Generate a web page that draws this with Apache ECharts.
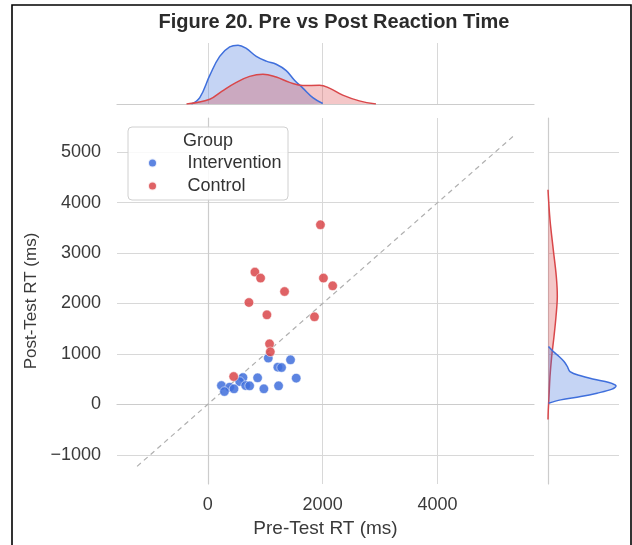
<!DOCTYPE html>
<html>
<head>
<meta charset="utf-8">
<script src="https://cdn.jsdelivr.net/npm/echarts@6/dist/echarts.min.js"></script>
<style>html,body{margin:0;padding:0;background:#fff}#c{width:632px;height:545px}</style>
</head>
<body>
<div id="c"></div>
<script>
// ---- data ----
const groups = ['Intervention', 'Control'];
const interventionPre  = [1054, 1441, 1220, 1285, 613, 868, 1540, 556, 238, 660, 729, 1233, 382, 457, 290, 977];
const interventionPost = [917, 883, 738, 730, 532, 526, 520, 452, 373, 373, 367, 367, 341, 308, 254, 308];
const controlPre  = [1962, 821, 920, 2014, 2175, 1337, 717, 1030, 1858, 1076, 1089, 451];
const controlPost = [3562, 2623, 2504, 2504, 2351, 2238, 2020, 1776, 1736, 1200, 1042, 552];
const xTicks = [0, 2000, 4000];
const yTicks = [-1000, 0, 1000, 2000, 3000, 4000, 5000];
const diagonal = [-1230, 5350];
// marginal density curves (relative heights)
const topBlueX = [-283, -139, 35, 208, 382, 527, 671, 845, 1019, 1192, 1366, 1510, 1655, 1829, 2002];
const topBlueH = [0, 6.7, 30, 50, 60, 61.7, 58.3, 50, 45, 41.7, 35, 25, 16.7, 6.7, 0.5];
const topRedX = [-370, 35, 243, 498, 729, 961, 1192, 1424, 1655, 1944, 2118, 2350, 2639, 2928];
const topRedH = [0, 5, 13.3, 22.7, 29, 31.3, 28.3, 22.7, 19.3, 19.7, 16.7, 9.3, 3.3, 0];
const rightBlueY = [23, 89, 155, 222, 301, 367, 433, 499, 566, 651, 751, 850, 949, 1048, 1147];
const rightBlueW = [0.5, 12.7, 32.7, 49, 64, 68, 61, 46, 32.7, 22, 19.3, 16, 11, 5.3, 0.5];
const rightRedY = [-300, -109, 155, 552, 949, 1346, 1743, 2140, 2536, 3065, 3661, 4256];
const rightRedW = [0, 0.3, 1, 2, 3.7, 6, 8, 9.3, 8.3, 5.3, 2, 0];

const BLUE = '#3f6fdc', RED = '#d9474a';
const FONT = "'Liberation Sans', Arial, sans-serif";
const RANGE = [-1580, 5680];
const zip = (a, b) => a.map((v, i) => [v, b[i]]);
const fmt = v => (v < 0 ? '\u2212' + Math.abs(v) : String(v));

const chart = echarts.init(document.getElementById('c'), null, {renderer: 'canvas'});

function kdeRight(xs, ys, color, fillOpacity) {
  return {
    type: 'custom', xAxisIndex: 2, yAxisIndex: 2, silent: true,
    data: zip(xs, ys),
    renderItem: function (params, api) {
      if (params.dataIndex !== 0) return null;
      const pts = xs.map((w, i) => api.coord([w, ys[i]]));
      return {
        type: 'group', children: [
          {type: 'polyline', shape: {points: pts, smooth: 0.35},
           style: {fill: color, opacity: fillOpacity, stroke: 'none'}},
          {type: 'polyline', shape: {points: pts, smooth: 0.35},
           style: {fill: 'none', stroke: color, lineWidth: 1.5}}
        ]
      };
    }
  };
}

const gridLine = {show: true, lineStyle: {color: '#d8d8d8', width: 1}};
const spine = {show: true, lineStyle: {color: '#cccccc', width: 1.2}};
const tickText = {fontSize: 18, color: '#3a3a3a', fontFamily: FONT};

chart.setOption({
  animation: false,
  backgroundColor: '#fff',
  grid: [
    {left: 117, top: 118, width: 417, height: 366},
    {left: 117, top: 43, width: 417, height: 61},
    {left: 548, top: 118, width: 71, height: 366}
  ],
  xAxis: [
    {type: 'value', gridIndex: 0, min: RANGE[0], max: RANGE[1],
     axisLine: spine, axisTick: {show: false, customValues: xTicks},
     axisLabel: Object.assign({customValues: xTicks, margin: 12, formatter: fmt}, tickText),
     splitLine: gridLine,
     name: 'Pre-Test RT (ms)', nameLocation: 'middle', nameGap: 34,
     nameTextStyle: {fontSize: 19, color: '#3a3a3a', fontFamily: FONT}},
    {type: 'value', gridIndex: 1, min: RANGE[0], max: RANGE[1],
     axisLine: spine, axisTick: {show: false, customValues: xTicks},
     axisLabel: {show: false, customValues: xTicks}, splitLine: gridLine},
    {type: 'value', gridIndex: 2, min: 0, max: 71, show: false}
  ],
  yAxis: [
    {type: 'value', gridIndex: 0, min: RANGE[0], max: RANGE[1],
     axisLine: spine, axisTick: {show: false, customValues: yTicks},
     axisLabel: Object.assign({customValues: yTicks, margin: 16, formatter: fmt}, tickText),
     splitLine: gridLine,
     name: 'Post-Test RT (ms)', nameLocation: 'middle', nameGap: 76,
     nameTextStyle: {fontSize: 17, color: '#3a3a3a', fontFamily: FONT}},
    {type: 'value', gridIndex: 1, min: 0, max: 64, show: false},
    {type: 'value', gridIndex: 2, min: RANGE[0], max: RANGE[1],
     axisLine: spine, axisTick: {show: false, customValues: yTicks},
     axisLabel: {show: false, customValues: yTicks}, splitLine: gridLine}
  ],
  legend: {
    data: groups, orient: 'vertical', left: 142, top: 149,
    itemWidth: 60, itemHeight: 9, itemGap: 5, icon: 'circle',
    textStyle: {fontSize: 18, color: '#333', fontFamily: FONT, lineHeight: 18},
    selectedMode: false
  },
  graphic: [
    {type: 'rect', z: 3,
     shape: {x: 128, y: 127, width: 160, height: 73, r: 4},
     style: {fill: 'rgba(255,255,255,0.85)', stroke: '#d0d0d0', lineWidth: 1}},
    {type: 'text', x: 208, y: 141, z: 4,
     style: {text: 'Group', fontSize: 18, fill: '#333', fontFamily: FONT, align: 'center', verticalAlign: 'middle'}},
    {type: 'text', x: 334, y: 22, z: 4,
     style: {text: 'Figure 20. Pre vs Post Reaction Time', fontSize: 20, fontWeight: 'bold', fill: '#2b2b2b', fontFamily: FONT, align: 'center', verticalAlign: 'middle'}},
    {type: 'rect', z: 10,
     shape: {x: 12, y: 5, width: 619, height: 600},
     style: {fill: 'none', stroke: '#000', lineWidth: 1.6}}
  ],
  series: [
    {type: 'line', xAxisIndex: 0, yAxisIndex: 0, silent: true, symbol: 'none',
     data: [[diagonal[0], diagonal[0]], [diagonal[1], diagonal[1]]],
     lineStyle: {color: '#b0b0b0', width: 1.2, type: [5, 4]}, z: 1},
    {name: groups[0], type: 'scatter', xAxisIndex: 0, yAxisIndex: 0,
     data: zip(interventionPre, interventionPost), symbolSize: 9.5,
     itemStyle: {color: BLUE, opacity: 0.85, borderColor: '#fff', borderWidth: 0.6}, z: 2},
    {name: groups[1], type: 'scatter', xAxisIndex: 0, yAxisIndex: 0,
     data: zip(controlPre, controlPost), symbolSize: 9.5,
     itemStyle: {color: RED, opacity: 0.85, borderColor: '#fff', borderWidth: 0.6}, z: 2},
    {type: 'line', xAxisIndex: 1, yAxisIndex: 1, silent: true, symbol: 'none', smooth: 0.4,
     data: zip(topBlueX, topBlueH), lineStyle: {color: BLUE, width: 1.5},
     areaStyle: {color: BLUE, opacity: 0.3}},
    {type: 'line', xAxisIndex: 1, yAxisIndex: 1, silent: true, symbol: 'none', smooth: 0.4,
     data: zip(topRedX, topRedH), lineStyle: {color: RED, width: 1.5},
     areaStyle: {color: RED, opacity: 0.3}},
    kdeRight(rightRedW, rightRedY, RED, 0.3),
    kdeRight(rightBlueW, rightBlueY, BLUE, 0.3)
  ]
});
</script>
</body>
</html>
